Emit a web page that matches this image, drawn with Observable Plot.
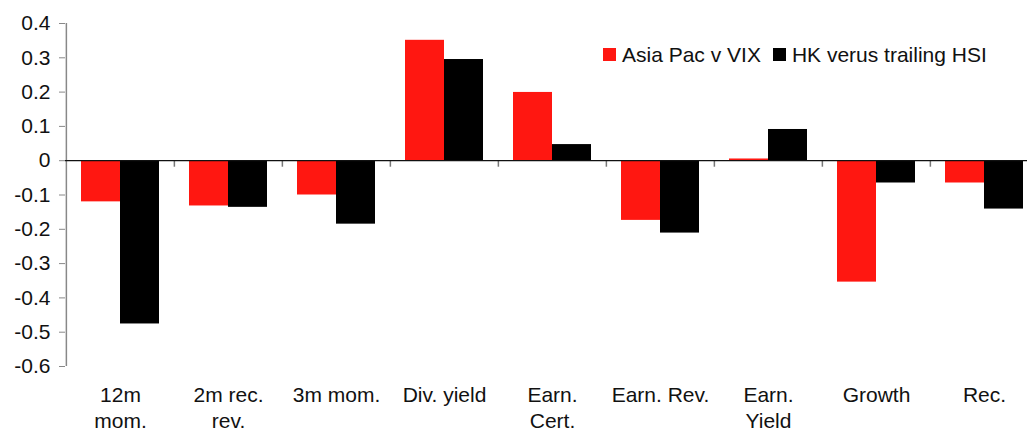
<!DOCTYPE html>
<html>
<head>
<meta charset="utf-8">
<script src="https://cdn.jsdelivr.net/npm/d3@7"></script>
<script src="https://cdn.jsdelivr.net/npm/@observablehq/plot@0.6"></script>
<style>
  html, body { margin: 0; padding: 0; background: white; overflow: hidden; }
  #wrap { position: relative; width: 1027px; height: 432px; }
  #legend { position: absolute; left: 603px; top: 44px; display: flex; align-items: center;
    font: 21px Arial, "Liberation Sans", sans-serif; line-height: 1; color: #111; white-space: nowrap; }
  .sw { display: inline-block; width: 13px; height: 13px; }
</style>
</head>
<body>
<div id="wrap"></div>
<script>
const categories = ["12m mom.", "2m rec. rev.", "3m mom.", "Div. yield", "Earn. Cert.", "Earn. Rev.", "Earn. Yield", "Growth", "Rec."];
const tickLabels = ["12m\nmom.", "2m rec.\nrev.", "3m mom.", "Div. yield", "Earn.\nCert.", "Earn. Rev.", "Earn.\nYield", "Growth", "Rec."];
const seriesNames = ["Asia Pac v VIX", "HK verus trailing HSI"];
const seriesColors = ["#ff1711", "#000000"];
const asiaPac = [-0.12, -0.132, -0.10, 0.351, 0.199, -0.174, 0.005, -0.354, -0.065];
const hkTrailing = [-0.476, -0.136, -0.185, 0.295, 0.047, -0.211, 0.091, -0.065, -0.141];
const yTicks = [0.4, 0.3, 0.2, 0.1, 0, -0.1, -0.2, -0.3, -0.4, -0.5, -0.6];

const dataA = categories.map((c, i) => ({category: c, value: asiaPac[i]}));
const dataB = categories.map((c, i) => ({category: c, value: hkTrailing[i]}));

const step = (1039 - 64.7) / categories.length;

const chart = Plot.plot({
  width: 1027,
  height: 432,
  marginLeft: 65,
  marginRight: 0,
  marginTop: 23,
  marginBottom: 66,
  style: {fontFamily: "Arial, 'Liberation Sans', sans-serif", fontSize: "21px", color: "#111", background: "white"},
  x: {domain: categories, range: [64.7, 1039], paddingInner: 0.282, paddingOuter: 0.141, label: null},
  y: {domain: [-0.6, 0.4], label: null},
  marks: [
    Plot.barY(dataA, {x: "category", y: "value", fill: seriesColors[0], insetRight: 39}),
    Plot.barY(dataB, {x: "category", y: "value", fill: seriesColors[1], insetLeft: 39}),
    Plot.ruleX(categories.slice(1), {x: d => d, dx: -step / 2, y1: 0, y2: -0.019, stroke: "#777", strokeWidth: 1.5}),
    Plot.ruleX(categories.slice(0, 1), {x: d => d, dx: -step / 2, y1: -0.6, y2: 0.4, stroke: "#888", strokeWidth: 1.5}),
    Plot.ruleY([0], {stroke: "#111", strokeWidth: 1.2}),
    Plot.axisY({ticks: yTicks, tickFormat: d => d === 0 ? "0" : d.toFixed(1), tickSize: 6, tickPadding: 9, stroke: "#888", label: null}),
    Plot.axisX({tickSize: 0, tickPadding: 18, tickFormat: d => tickLabels[categories.indexOf(d)], lineHeight: 1.2, label: null})
  ]
});

const wrap = document.getElementById("wrap");
wrap.appendChild(chart);

const legend = document.createElement("div");
legend.id = "legend";
seriesNames.forEach((name, i) => {
  const sw = document.createElement("span");
  sw.className = "sw";
  sw.style.background = seriesColors[i];
  sw.style.marginRight = "6px";
  if (i > 0) sw.style.marginLeft = "12px";
  legend.appendChild(sw);
  const t = document.createElement("span");
  t.textContent = name;
  legend.appendChild(t);
});
wrap.appendChild(legend);
</script>
</body>
</html>
